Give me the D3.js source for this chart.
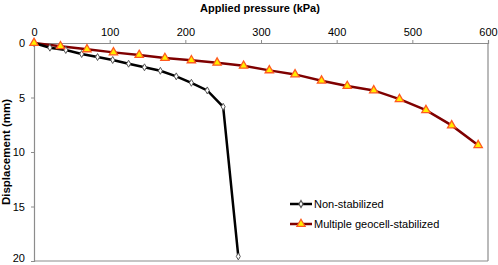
<!DOCTYPE html>
<html>
<head>
<meta charset="utf-8">
<script src="https://cdn.jsdelivr.net/npm/d3@7"></script>
<style>
  html, body { margin: 0; padding: 0; background: #fff; }
  svg text { font-family: "Liberation Sans", Arial, sans-serif; }
</style>
</head>
<body>
<div id="chart"></div>
<script>
(function() {
    'use strict';

    // Non-stabilized
    const plainPressure = [0, 21, 42, 63, 84, 104, 125, 146, 167, 188, 208, 229, 250, 270];
    const plainDisp = [0, 0.43, 0.64, 1.01, 1.29, 1.56, 1.9, 2.23, 2.55, 3.06, 3.65, 4.35, 5.85, 19.58];

    // Multiple geocell-stabilized
    const geoPressure = [0, 35, 70, 105, 139, 173, 208, 242, 277, 311, 345, 380, 414, 449, 483, 518, 552, 587];
    const geoDisp = [0, 0.3, 0.58, 0.86, 1.1, 1.38, 1.59, 1.81, 2.09, 2.51, 2.88, 3.46, 3.95, 4.35, 5.15, 6.16, 7.56, 9.37];

    const xTicks = [0, 100, 200, 300, 400, 500, 600];
    const yTicks = [0, 5, 10, 15, 20];
    const seriesNames = ["Non-stabilized", "Multiple geocell-stabilized"];

    const width = 498;
    const height = 265;
    const marginTop = 43;
    const marginRight = 10;
    const marginBottom = 4;
    const marginLeft = 34;

    const svg = d3.select("#chart")
        .append("svg")
        .attr("width", width)
        .attr("height", height);

    // SCALES
    const x = d3.scaleLinear()
        .domain([0, 600])
        .range([marginLeft, width - marginRight]);

    const y = d3.scaleLinear()
        .domain([0, 20])
        .range([marginTop, height - marginBottom]);

    const axisColor = "#8c8c8c";

    // frame right + bottom
    svg.append("line")
        .attr("x1", x(600)).attr("x2", x(600))
        .attr("y1", y(0)).attr("y2", y(20))
        .attr("stroke", axisColor).attr("stroke-width", 1.2);
    svg.append("line")
        .attr("x1", x(0)).attr("x2", x(600))
        .attr("y1", y(20)).attr("y2", y(20))
        .attr("stroke", axisColor).attr("stroke-width", 1.2);

    // TOP AXIS
    svg.append("g")
        .attr("transform", `translate(0, ${y(0)})`)
        .call(d3.axisTop(x).tickValues(xTicks).tickSize(3).tickPadding(4))
        .call(g => g.select(".domain").attr("stroke", axisColor).attr("stroke-width", 1.2))
        .call(g => g.selectAll("line").attr("stroke", axisColor))
        .selectAll("text")
        .attr("fill", "#000")
        .attr("font-size", "11px")
        .attr("font-family", "Liberation Sans, Arial, sans-serif");

    // LEFT AXIS
    svg.append("g")
        .attr("transform", `translate(${x(0)}, 0)`)
        .call(d3.axisLeft(y).tickValues(yTicks).tickSize(3).tickPadding(6))
        .call(g => g.select(".domain").attr("stroke", axisColor).attr("stroke-width", 1.2))
        .call(g => g.selectAll("line").attr("stroke", axisColor))
        .selectAll("text")
        .attr("fill", "#000")
        .attr("font-size", "11px")
        .attr("font-family", "Liberation Sans, Arial, sans-serif")
        // last label sits on the bottom edge, nudge it up a bit
        .attr("y", d => d === 20 ? -3 : 0);

    // AXIS TITLES
    svg.append("text")
        .attr("x", 260)
        .attr("y", 12)
        .attr("text-anchor", "middle")
        .attr("font-size", "11px")
        .attr("font-weight", "bold")
        .text("Applied pressure (kPa)");

    svg.append("text")
        .attr("transform", `translate(10, ${(y(0) + y(20)) / 2}) rotate(-90)`)
        .attr("text-anchor", "middle")
        .attr("font-size", "11.5px")
        .attr("font-weight", "bold")
        .text("Displacement (mm)");

    const line = d3.line().x(d => x(d[0])).y(d => y(d[1]));

    const plainPts = plainPressure.map((p, i) => [p, plainDisp[i]]);
    const geoPts = geoPressure.map((p, i) => [p, geoDisp[i]]);

    const diamond = d3.symbol().type(d3.symbolDiamond).size(14);
    const triangle = d3.symbol().type(d3.symbolTriangle).size(30);

    // geocell line
    svg.append("path")
        .datum(geoPts)
        .attr("d", line)
        .attr("fill", "none")
        .attr("stroke", "#7f0000")
        .attr("stroke-width", 2.5);

    // non-stabilized line
    svg.append("path")
        .datum(plainPts)
        .attr("d", line)
        .attr("fill", "none")
        .attr("stroke", "#000")
        .attr("stroke-width", 2.5);

    svg.append("g")
        .selectAll("path")
        .data(plainPts)
        .join("path")
        .attr("transform", d => `translate(${x(d[0])}, ${y(d[1])})`)
        .attr("d", diamond)
        .attr("fill", "#fff")
        .attr("stroke", "#555")
        .attr("stroke-width", 1);

    svg.append("g")
        .selectAll("path")
        .data(geoPts)
        .join("path")
        .attr("transform", d => `translate(${x(d[0])}, ${y(d[1])})`)
        .attr("d", triangle)
        .attr("fill", "#ffee00")
        .attr("stroke", "#ff5a1f")
        .attr("stroke-width", 1.3);

    // LEGEND
    const legend = svg.append("g").attr("transform", "translate(290, 204)");
    const legendRows = legend.selectAll("g")
        .data(seriesNames)
        .join("g")
        .attr("transform", (d, i) => `translate(0, ${i * 20})`);

    legendRows.append("line")
        .attr("x1", 0).attr("x2", 22)
        .attr("stroke", (d, i) => i === 0 ? "#000" : "#7f0000")
        .attr("stroke-width", 2.5);

    legendRows.append("path")
        .attr("transform", "translate(11, 0)")
        .attr("d", (d, i) => i === 0 ? diamond() : triangle())
        .attr("fill", (d, i) => i === 0 ? "#fff" : "#ffee00")
        .attr("stroke", (d, i) => i === 0 ? "#555" : "#ff5a1f")
        .attr("stroke-width", 1.2);

    legendRows.append("text")
        .attr("x", 24)
        .attr("y", 4)
        .attr("font-size", "11px")
        .text(d => d);
})();
</script>
</body>
</html>
